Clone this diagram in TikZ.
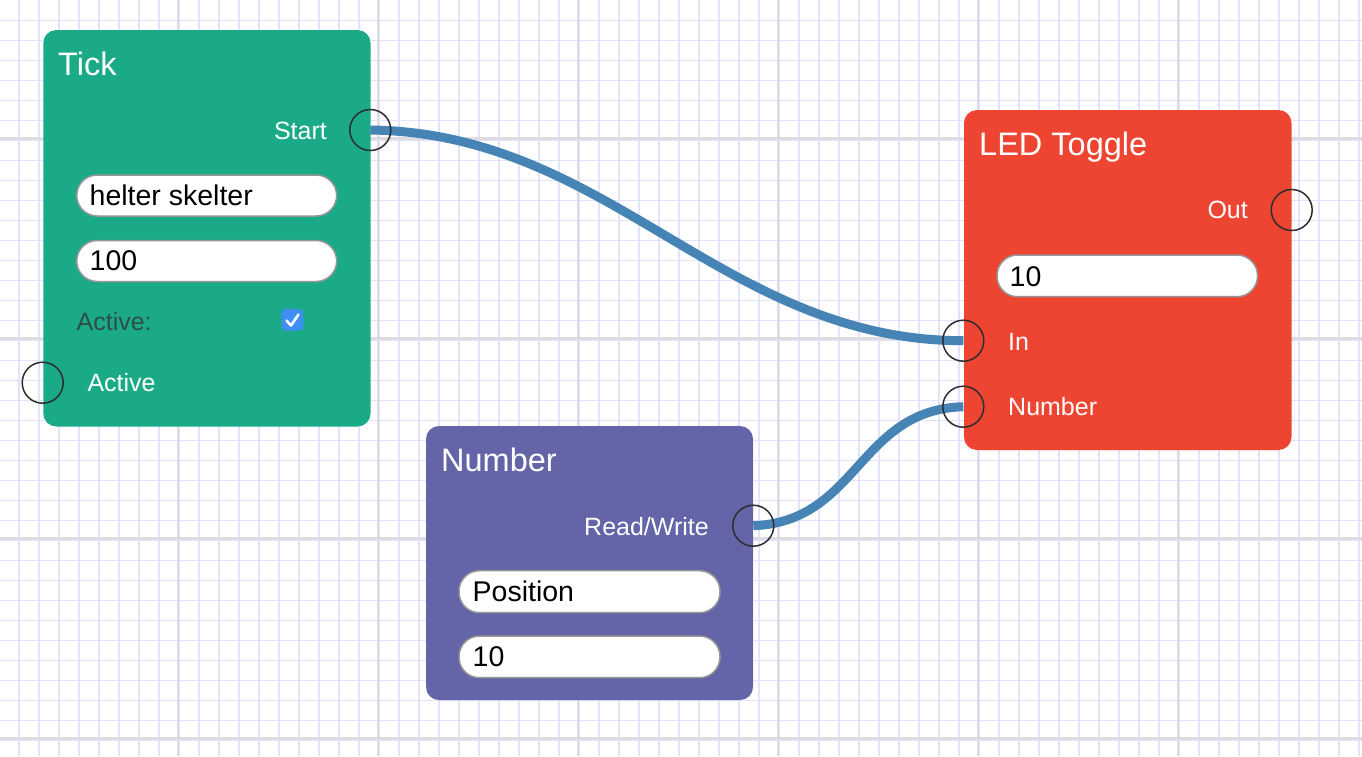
\documentclass[tikz,border=0pt]{standalone}
\usepackage{fontspec}
\setmainfont{Liberation Sans}
\definecolor{gridminor}{RGB}{226,226,250}
\definecolor{gridmajor}{RGB}{220,220,226}
\definecolor{tickcol}{RGB}{27,170,136}
\definecolor{ledcol}{RGB}{238,68,50}
\definecolor{numcol}{RGB}{100,100,168}
\definecolor{wirecol}{RGB}{70,132,182}
\definecolor{portcol}{RGB}{45,45,45}
\definecolor{fieldborder}{RGB}{150,150,150}
\definecolor{checkcol}{RGB}{62,142,245}
\definecolor{dimtext}{RGB}{44,78,72}
\tikzset{
  block/.style={rounded corners=13pt, draw=none},
  field/.style={draw=fieldborder, line width=1.5pt, fill=white, rounded corners=20.5pt},
  port/.style={circle, draw=none, minimum size=41pt, inner sep=0pt},
  ring/.style={draw=portcol, line width=1.5pt},
  wire/.style={draw=wirecol, line width=9pt},
  title/.style={text=white, font=\fontsize{32.5}{32.5}\selectfont, inner sep=0pt, anchor=base west},
  lblr/.style={text=white, font=\fontsize{25}{25}\selectfont, inner sep=0pt, anchor=base east},
  lbll/.style={text=white, font=\fontsize{25}{25}\selectfont, inner sep=0pt, anchor=base west},
  ftext/.style={text=black, font=\fontsize{28.5}{28.5}\selectfont, inner sep=0pt, anchor=base west},
}
\begin{document}
\begin{tikzpicture}[x=1pt,y=-1pt]
\useasboundingbox (0,0) rectangle (1362,756);
\fill[white] (0,0) rectangle (1362,756);
% grid
\foreach \k in {0,...,67} { \draw[gridminor, line width=1.5pt] ({19+20*\k},0) -- ({19+20*\k},756); }
\foreach \k in {0,...,37} { \draw[gridminor, line width=1.5pt] (0,{20.5+20*\k}) -- (1362,{20.5+20*\k}); }
\foreach \k in {0,...,6} { \draw[gridmajor, line width=2.5pt] ({178+200*\k},0) -- ({178+200*\k},756); }
\foreach \k in {0,...,3} { \draw[gridmajor, line width=2.5pt] (0,{138.5+200*\k}) -- (1362,{138.5+200*\k}); }

% Tick block
\fill[tickcol, block] (43.3,30) rectangle (370.5,426.5);
\node[title] (ticktitle) at (58,75) {Tick};
\node[lblr] (startlbl) at (327,139) {Start};
\draw[field] (76.7,175) rectangle (336.7,216);
\node[ftext] (f1) at (89.5,205.5) {helter skelter};
\draw[field] (76.7,240.5) rectangle (336.7,281.5);
\node[ftext] (f2) at (89.5,270.5) {100};
\node[text=dimtext, font=\fontsize{25}{25}\selectfont, inner sep=0pt, anchor=base west] (activelbl) at (76.5,330) {Active:};
\fill[checkcol, rounded corners=4pt] (281.5,309) rectangle (303.3,330.7);
\draw[white, line width=2.6pt, line cap=round, line join=round] (286.5,320.5) -- (291,325.5) -- (298.5,314.5);
\node[lbll] (activeout) at (87.3,391.7) {Active};

% LED Toggle block
\fill[ledcol, block] (964,110) rectangle (1291.5,450);
\node[title] (ledtitle) at (979,155.7) {LED Toggle};
\node[lblr] (outlbl) at (1248,218.7) {Out};
\draw[field] (997,255) rectangle (1257.5,296.7);
\node[ftext] (f3) at (1009.5,286.5) {10};
\node[lbll] (inlbl) at (1008,350) {In};
\node[lbll] (numlbl) at (1008,415.5) {Number};

% Number block
\fill[numcol, block] (426,426) rectangle (753,700);
\node[title] (numtitle) at (441,471) {Number};
\node[lblr] (rwlbl) at (709,535) {Read/Write};
\draw[field] (459,570.7) rectangle (720,612.7);
\node[ftext] (f4) at (472.5,601.5) {Position};
\draw[field] (459,636) rectangle (720,677.7);
\node[ftext] (f5) at (472.5,666.7) {10};

% ports
\node[port] (start) at (370.3,130) {};
\node[port] (active) at (42.7,382.7) {};
\node[port] (out) at (1291.7,210) {};
\node[port] (in) at (963.3,340.7) {};
\node[port] (number) at (963.3,406.7) {};
\node[port] (rw) at (753.3,525.7) {};

% wires
\draw[wire] (start.center) .. controls +(240,3) and +(-240,0) .. (in.center);
\draw[wire] (rw.center) .. controls +(105,-4) and +(-105,3) .. (number.center);
% port rings on top
\foreach \p in {start,active,out,in,number,rw} { \draw[ring] (\p.center) circle (20.5pt); }
\end{tikzpicture}
\end{document}
